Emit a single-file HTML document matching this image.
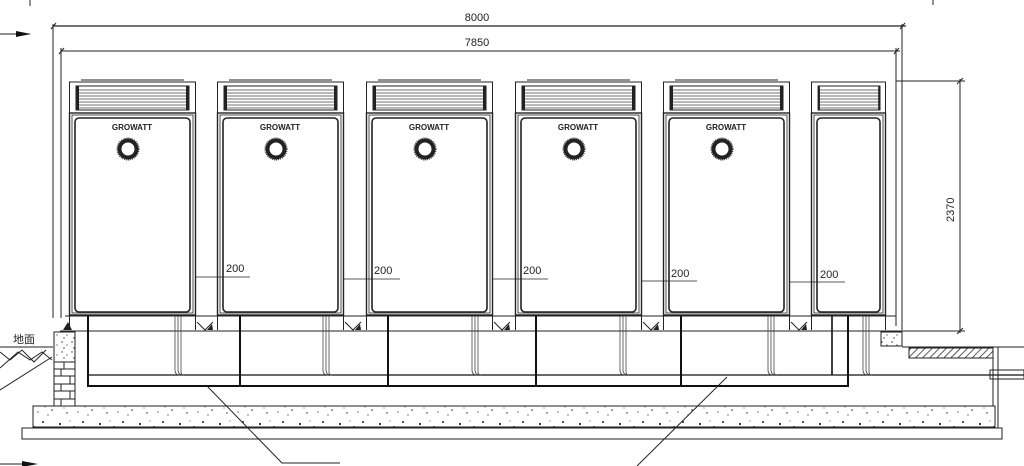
<!DOCTYPE html>
<html><head><meta charset="utf-8"><style>
html,body{margin:0;padding:0;background:#fff;}
svg{display:block;}
text{font-family:"Liberation Sans","Noto Sans CJK SC",sans-serif;fill:#222;}
</style></head><body>
<svg width="1024" height="466" viewBox="0 0 1024 466" xmlns="http://www.w3.org/2000/svg">
<defs>
<pattern id="conc" width="40" height="22" patternUnits="userSpaceOnUse">
<g fill="#222">
<circle cx="3" cy="4" r="1"/><circle cx="12" cy="14" r="0.8"/><circle cx="20" cy="6" r="1.1"/><circle cx="27" cy="17" r="0.7"/><circle cx="34" cy="9" r="1"/><circle cx="8" cy="19" r="0.6"/><circle cx="16" cy="10" r="0.5"/><circle cx="30" cy="3" r="0.5"/><circle cx="38" cy="16" r="0.6"/><circle cx="24" cy="12" r="0.5"/><circle cx="5" cy="11" r="0.5"/>
</g></pattern>
<pattern id="gravel" width="10" height="10" patternUnits="userSpaceOnUse">
<g fill="#333"><circle cx="2" cy="2" r="0.7"/><circle cx="7" cy="5" r="0.6"/><circle cx="4" cy="8" r="0.7"/></g></pattern>
<pattern id="hatch" width="5" height="5" patternUnits="userSpaceOnUse" patternTransform="rotate(45)">
<line x1="0" y1="0" x2="0" y2="5" stroke="#222" stroke-width="1.5"/></pattern>
<g id="louv">
<rect x="0" y="0" width="113" height="24" fill="none" stroke="#222" stroke-width="1"/>
<g stroke="#444" stroke-width="0.8">
<line x1="3" y1="4" x2="110" y2="4"/><line x1="3" y1="7" x2="110" y2="7"/><line x1="3" y1="10" x2="110" y2="10"/><line x1="3" y1="13" x2="110" y2="13"/><line x1="3" y1="16" x2="110" y2="16"/><line x1="3" y1="19" x2="110" y2="19"/><line x1="3" y1="22" x2="110" y2="22"/>
</g>
<rect x="0" y="0" width="3" height="24" fill="#222"/><rect x="110" y="0" width="3" height="24" fill="#222"/>
</g>
<g id="cab">
<line x1="12" y1="0" x2="115" y2="0" stroke="#222"/>
<rect x="0.5" y="2" width="126" height="31" fill="none" stroke="#222"/>
<use href="#louv" x="7" y="6"/>
<rect x="0.5" y="33" width="126" height="202" fill="none" stroke="#222" stroke-width="1.4"/>
<rect x="3" y="35" width="121" height="198" fill="none" stroke="#222" stroke-width="0.8"/>
<rect x="6" y="38" width="115" height="194" rx="4" fill="none" stroke="#222" stroke-width="1.6"/>
<circle cx="59" cy="69" r="8.5" fill="none" stroke="#222" stroke-width="4"/>
<circle cx="59" cy="69" r="11" fill="none" stroke="#222" stroke-width="1" stroke-dasharray="1 1"/>
<line x1="0.5" y1="235" x2="0.5" y2="250" stroke="#222"/><line x1="126.5" y1="235" x2="126.5" y2="250" stroke="#222"/>
<line x1="0" y1="236" x2="127" y2="236" stroke="#222"/>
</g>
<g id="foot">
<path d="M0 0 L8 8 L16 0" fill="none" stroke="#222"/>
<path d="M10 8 L15 2 L16 8 Z" fill="#222"/>
</g>
</defs>

<g stroke="#222" fill="none">
<line x1="53" y1="26" x2="906" y2="26" stroke-width="1.2"/>
<line x1="61" y1="51" x2="900" y2="51"/>
<line x1="53" y1="24" x2="53" y2="318"/>
<line x1="902" y1="24" x2="902" y2="330"/>
<line x1="61" y1="48" x2="61" y2="318"/>
<line x1="896" y1="48" x2="896" y2="326"/>
<line x1="51" y1="29" x2="56" y2="23"/><line x1="900" y1="29" x2="905" y2="23"/>
<line x1="59" y1="54" x2="64" y2="48"/><line x1="894" y1="54" x2="899" y2="48"/>
<line x1="0" y1="34" x2="30" y2="34"/>
<line x1="0" y1="464" x2="30" y2="464"/>
<line x1="30" y1="0" x2="30" y2="6"/>
<line x1="933" y1="0" x2="933" y2="5"/>
</g>
<path d="M16 31 L31 34 L16 37 Z" fill="#111"/>
<path d="M22 461 L38 464 L22 467 Z" fill="#111"/>
<text x="477" y="21" font-size="11" text-anchor="middle">8000</text>
<text x="477" y="46" font-size="11" text-anchor="middle">7850</text>

<use href="#cab" x="69" y="80"/>
<use href="#cab" x="217" y="80"/>
<use href="#cab" x="366" y="80"/>
<use href="#cab" x="515" y="80"/>
<use href="#cab" x="663" y="80"/>
<g font-size="8" font-weight="bold" text-anchor="middle">
<text x="132" y="130">GROWATT</text><text x="280" y="130">GROWATT</text><text x="429" y="130">GROWATT</text><text x="578" y="130">GROWATT</text><text x="726" y="130">GROWATT</text>
</g>
<g stroke="#222" fill="none" transform="translate(811,80)">
<rect x="0.5" y="2" width="74" height="31"/>
<use href="#louv" x="7" y="6" transform="scale(0.55,1) translate(5.7,0)"/>
<rect x="0.5" y="33" width="74" height="202" stroke-width="1.4"/>
<rect x="3" y="35" width="69" height="198" stroke-width="0.8"/>
<rect x="6" y="38" width="63" height="194" rx="4" stroke-width="1.6"/>
<line x1="0.5" y1="235" x2="0.5" y2="250"/><line x1="74.5" y1="235" x2="74.5" y2="250"/>
</g>

<g stroke="#222" font-size="11">
<line x1="196" y1="277" x2="250" y2="277" stroke-width="0.8"/>
<line x1="344" y1="279" x2="400" y2="279" stroke-width="0.8"/>
<line x1="493" y1="279" x2="548" y2="279" stroke-width="0.8"/>
<line x1="642" y1="281" x2="697" y2="281" stroke-width="0.8"/>
<line x1="790" y1="282" x2="845" y2="282" stroke-width="0.8"/>
</g>
<g font-size="11">
<text x="226" y="272">200</text><text x="374" y="274">200</text><text x="523" y="274">200</text><text x="671" y="277">200</text><text x="820" y="278">200</text>
</g>

<g stroke="#222">
<line x1="896" y1="81" x2="965" y2="81"/>
<line x1="960" y1="79" x2="960" y2="333"/>
<line x1="905" y1="331" x2="965" y2="331"/>
<line x1="957" y1="84" x2="963" y2="78"/><line x1="957" y1="334" x2="963" y2="328"/>
</g>
<text x="0" y="0" font-size="11" transform="translate(954,222) rotate(-90)">2370</text>

<g stroke="#222" fill="none">
<line x1="60" y1="331" x2="905" y2="331"/>
<line x1="65" y1="316" x2="896" y2="316"/>
</g>
<use href="#foot" x="197" y="322"/><use href="#foot" x="345" y="322"/><use href="#foot" x="494" y="322"/><use href="#foot" x="643" y="322"/><use href="#foot" x="791" y="322"/>
<path d="M63 330 L68 322 L72 330 Z" fill="#222"/>

<g stroke="#111" fill="none">
<path d="M88 316 V386 H848 V316" stroke-width="2"/>
<line x1="240" y1="316" x2="240" y2="386" stroke-width="2"/>
<line x1="388" y1="316" x2="388" y2="386" stroke-width="2"/>
<line x1="536" y1="316" x2="536" y2="386" stroke-width="2"/>
<line x1="681" y1="316" x2="681" y2="386" stroke-width="2"/>
<line x1="832" y1="316" x2="832" y2="375" stroke-width="1.6"/>
<line x1="88" y1="375" x2="1024" y2="375" stroke-width="1.2"/>
</g>
<g stroke="#444" fill="none" stroke-width="0.8">
<path d="M175 316 V370 q0 5 5 5"/><path d="M178 316 V370 q0 4 4 5"/><path d="M181 316 V372 q0 3 3 3"/>
<path d="M323 316 V370 q0 5 5 5"/><path d="M326 316 V370 q0 4 4 5"/><path d="M329 316 V372 q0 3 3 3"/>
<path d="M472 316 V370 q0 5 5 5"/><path d="M475 316 V370 q0 4 4 5"/><path d="M478 316 V372 q0 3 3 3"/>
<path d="M620 316 V370 q0 5 5 5"/><path d="M623 316 V370 q0 4 4 5"/><path d="M626 316 V372 q0 3 3 3"/>
<path d="M768 316 V370 q0 5 5 5"/><path d="M771 316 V370 q0 4 4 5"/><path d="M774 316 V372 q0 3 3 3"/>
<path d="M863 316 V370 q0 5 5 5"/><path d="M866 316 V370 q0 4 4 5"/><path d="M869 316 V372 q0 3 3 3"/>
</g>

<text x="13" y="343" font-size="11">地面</text>
<g stroke="#222" fill="none">
<line x1="0" y1="347" x2="53" y2="347"/>
<path d="M0 352 L10 360 L22 350 L34 362 L46 350"/>
<path d="M0 368 L18 352 L30 360 L42 352 L52 360"/>
<line x1="0" y1="390" x2="52" y2="357"/>
</g>
<rect x="54" y="332" width="21" height="30" fill="url(#gravel)" stroke="#222"/>
<g stroke="#222" fill="none">
<rect x="54" y="362" width="21" height="44"/>
<line x1="54" y1="369" x2="75" y2="369"/><line x1="54" y1="376" x2="75" y2="376"/><line x1="54" y1="384" x2="75" y2="384"/><line x1="54" y1="391" x2="75" y2="391"/><line x1="54" y1="399" x2="75" y2="399"/>
<line x1="64" y1="362" x2="64" y2="369"/><line x1="61" y1="369" x2="61" y2="376"/><line x1="70" y1="376" x2="70" y2="384"/><line x1="61" y1="384" x2="61" y2="391"/><line x1="70" y1="391" x2="70" y2="399"/><line x1="61" y1="399" x2="61" y2="406"/>
</g>

<rect x="881" y="332" width="21" height="14" fill="url(#gravel)" stroke="#222"/>
<line x1="902" y1="347" x2="1024" y2="347" stroke="#222"/>
<rect x="909" y="348" width="84" height="10" fill="url(#hatch)" stroke="#222"/>
<g stroke="#222" fill="none">
<line x1="993" y1="347" x2="993" y2="406"/><line x1="998" y1="347" x2="998" y2="428"/>
<rect x="990" y="370" width="34" height="9"/>
</g>

<rect x="33" y="406" width="962" height="21" fill="url(#conc)" stroke="#222"/>
<rect x="22" y="428" width="980" height="11" fill="#fff" stroke="#222"/>

<g stroke="#222" fill="none">
<path d="M207 386 L282 463 H340"/>
<path d="M727 377 L637 466"/>
</g>
</svg>
</body></html>
